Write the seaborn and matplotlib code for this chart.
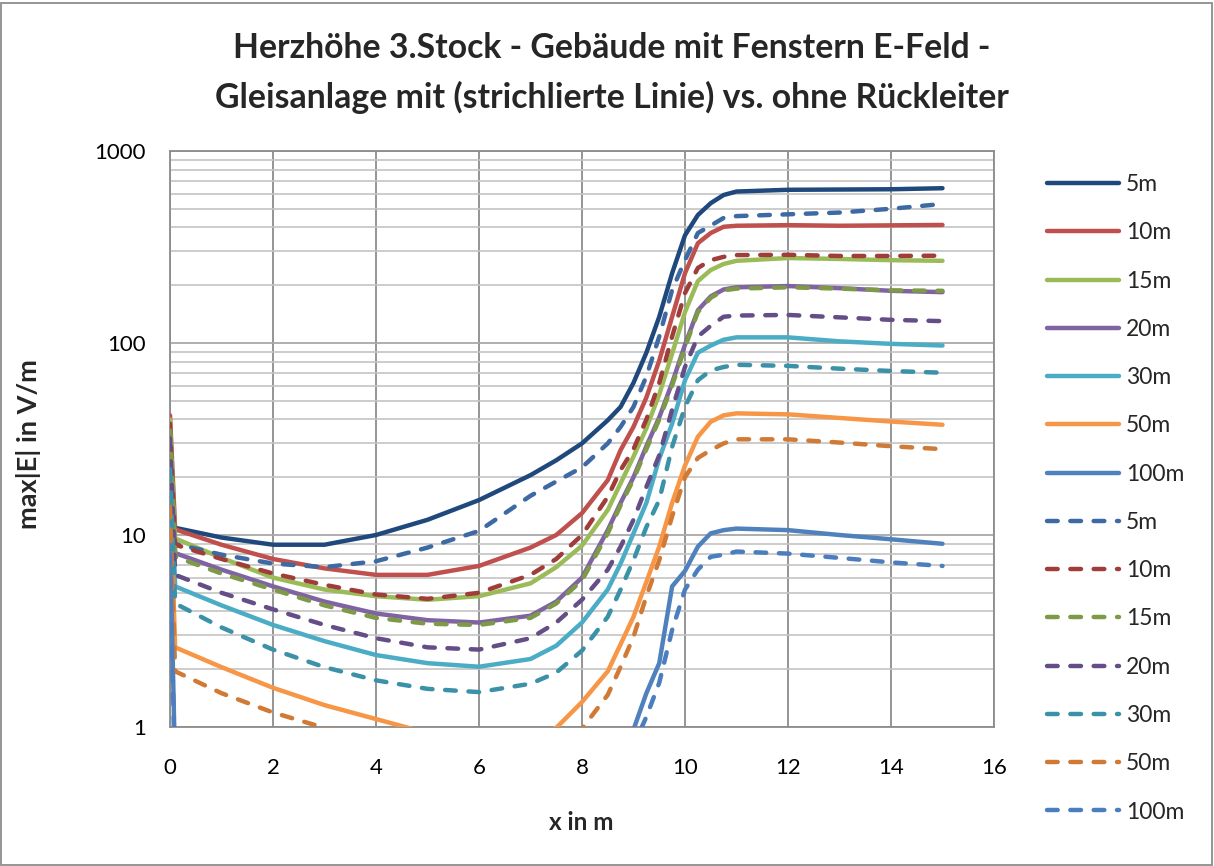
import numpy as np
import pandas as pd
import matplotlib
matplotlib.use("Agg")
import matplotlib.pyplot as plt
from matplotlib.patches import Rectangle
from matplotlib.ticker import FixedLocator, LogLocator, NullFormatter
import seaborn as sns

# ---------------- data ----------------
x_m = [0, 0.1, 1, 2, 3, 4, 5, 6, 7, 7.5, 8, 8.5, 8.75, 9, 9.25, 9.5, 9.75,
       10, 10.25, 10.5, 10.75, 11, 12, 13, 14, 15]

labels = ["5m", "10m", "15m", "20m", "30m", "50m", "100m"]

# without return conductor (solid)
solid_5m = [11.5, 10.9, 9.7, 8.9, 8.9, 10.0, 12.0, 15.2, 20.5, 24.5, 30, 39.6, 46.5, 62, 89, 137, 231,
            364, 464, 535, 590, 615, 628, 630, 632, 640]
solid_10m = [42, 10.7, 8.9, 7.5, 6.7, 6.2, 6.2, 6.9, 8.6, 10, 13, 19.3, 27.7, 36.6, 52, 81, 137,
             231, 331, 374, 403, 408, 411, 408, 410, 412]
solid_15m = [40, 9.6, 7.6, 6.0, 5.2, 4.8, 4.6, 4.8, 5.6, 6.8, 8.8, 13.5, 18.6, 25.6, 36, 54, 88,
             145, 210, 240, 258, 268, 277, 274, 270, 268]
solid_20m = [30, 8.05, 6.6, 5.4, 4.5, 3.9, 3.6, 3.5, 3.8, 4.5, 6.0, 10.6, 14.7, 20, 29, 41, 62,
             98, 148, 175, 190, 195, 198, 193, 187, 184]
solid_30m = [27, 5.4, 4.3, 3.4, 2.8, 2.37, 2.15, 2.06, 2.26, 2.65, 3.5, 5.2, 7.1, 10.2, 14.7, 25, 38,
             64, 89, 97, 104, 107, 107, 102, 99, 97]
solid_50m = [18, 2.6, 2.05, 1.6, 1.3, 1.1, 0.93, 0.85, 0.88, 0.99, 1.35, 1.95, 2.7, 3.75, 5.7, 8.7, 14.7,
             23, 32.5, 38.9, 42, 43, 42.5, 40.7, 39, 37.5]
solid_100m = [10, 0.6, 0.5, 0.4, 0.35, 0.3, 0.28, 0.27, 0.3, 0.35, 0.45, 0.6, 0.75, 0.97, 1.5, 2.15, 5.4,
              6.5, 8.7, 10.2, 10.6, 10.8, 10.6, 10.0, 9.5, 9.0]

# with return conductor (dashed)
dash_5m = [9.5, 9.0, 7.9, 7.1, 6.8, 7.3, 8.6, 10.5, 16, 19, 22.5, 30, 36.6, 46.5, 67, 108, 189,
           270, 374, 409, 448, 458, 468, 478, 500, 530]
dash_10m = [38, 8.9, 7.5, 6.3, 5.5, 4.9, 4.65, 5.0, 6.2, 7.5, 10, 15.8, 21.8, 28, 40, 62, 108,
            182, 246, 270, 281, 287, 288, 284, 284, 285]
dash_15m = [35, 7.7, 6.3, 5.2, 4.3, 3.7, 3.45, 3.4, 3.7, 4.4, 5.8, 10.2, 14.3, 19.5, 28, 40, 60,
            95, 145, 172, 188, 192, 195, 192, 188, 187]
dash_20m = [32, 6.2, 5.0, 4.1, 3.4, 2.9, 2.6, 2.53, 2.9, 3.5, 4.6, 6.6, 8.7, 12, 17.8, 26, 45,
            75, 108, 123, 137, 139, 140, 136, 132, 130]
dash_30m = [22, 4.4, 3.3, 2.53, 2.05, 1.75, 1.58, 1.52, 1.68, 1.92, 2.5, 3.75, 5.2, 7.4, 11, 15.2, 28.8,
            46.5, 64, 72, 75, 77, 76, 73.5, 71.5, 70]
dash_50m = [14, 1.95, 1.5, 1.19, 0.99, 0.85, 0.75, 0.7, 0.72, 0.8, 0.98, 1.47, 2.06, 2.95, 4.8, 7.4, 12.5,
            20, 25.2, 27.7, 30, 31.5, 31.5, 30.3, 29, 28]
dash_100m = [8, 0.5, 0.45, 0.4, 0.35, 0.3, 0.28, 0.27, 0.3, 0.35, 0.4, 0.5, 0.6, 0.8, 1.13, 1.7, 3.2,
             5.2, 6.6, 7.7, 7.9, 8.2, 8.0, 7.6, 7.2, 6.9]

solid_series = [solid_5m, solid_10m, solid_15m, solid_20m, solid_30m, solid_50m, solid_100m]
dash_series = [dash_5m, dash_10m, dash_15m, dash_20m, dash_30m, dash_50m, dash_100m]

solid_colors = ["#1F497D", "#C0504D", "#9BBB59", "#8064A2", "#4BACC6", "#F79646", "#4F81BD"]
dash_colors = ["#3E6AA3", "#A03C39", "#7E9A48", "#654E88", "#3A91A8", "#D07A35", "#4A7EBF"]

title1 = "Herzhöhe 3.Stock - Gebäude mit Fenstern E-Feld -"
title2 = "Gleisanlage mit (strichlierte Linie) vs. ohne Rückleiter"
xlabel = "x in m"
ylabel = "max|E| in V/m"
xticks = [0, 2, 4, 6, 8, 10, 12, 14, 16]
yticks = [1, 10, 100, 1000]
ytick_labels = ["1", "10", "100", "1000"]

# ---------------- style ----------------
sns.set_theme(style="white")
plt.rcParams["font.family"] = ["Lato", "DejaVu Sans"]

W, H = 1214, 866
fig = plt.figure(figsize=(W / 100, H / 100), dpi=100)
fig.patch.set_facecolor("white")
ax = fig.add_axes([170 / W, 1 - 727 / H, (994 - 170) / W, (727 - 151) / H])

lw = 3.2
dash_pat = (0, (2.4, 2.85))
for lab, vals, col in zip(labels, solid_series, solid_colors):
    df = pd.DataFrame({"x": x_m, "y": vals})
    sns.lineplot(data=df, x="x", y="y", ax=ax, color=col, linewidth=lw,
                 solid_capstyle="round", solid_joinstyle="round", label=lab,
                 estimator=None, sort=False, zorder=3)
for lab, vals, col in zip(labels, dash_series, dash_colors):
    df = pd.DataFrame({"x": x_m, "y": vals})
    sns.lineplot(data=df, x="x", y="y", ax=ax, color=col, linewidth=lw,
                 linestyle=dash_pat, dash_capstyle="round", dash_joinstyle="round",
                 label=lab, estimator=None, sort=False, zorder=3)

ax.set_yscale("log")
ax.set_xlim(0, 16)
ax.set_ylim(1, 1000)

ax.xaxis.set_major_locator(FixedLocator(xticks))
ax.yaxis.set_major_locator(FixedLocator(yticks))
ax.set_yticklabels(ytick_labels)
ax.set_xticklabels([str(t) for t in xticks])
ax.yaxis.set_minor_locator(LogLocator(base=10, subs=np.arange(2, 10)))
ax.yaxis.set_minor_formatter(NullFormatter())

ax.grid(True, which="major", axis="x", color="#8C8C8C", linewidth=1.3, zorder=1)
ax.grid(True, which="major", axis="y", color="#A8A8A8", linewidth=1.3, zorder=1)
ax.grid(True, which="minor", axis="y", color="#C4C4C4", linewidth=1.2, zorder=1)
ax.set_axisbelow(True)

for s in ax.spines.values():
    s.set_color("#8C8C8C")
    s.set_linewidth(1.3)

ax.tick_params(axis="both", which="major", direction="out", length=6.5, width=1.2,
               color="#8C8C8C", labelsize=16, labelcolor="black")
ax.tick_params(axis="x", which="major", pad=16)
ax.tick_params(axis="y", which="major", pad=11)
ax.tick_params(axis="y", which="minor", length=0)

ax.set_xlabel(xlabel, fontsize=17.5, fontweight="bold")
ax.set_ylabel(ylabel, fontsize=19.5, fontweight="bold")
ax.xaxis.label.set_va("center")
ax.yaxis.label.set_va("center")
ax.yaxis.label.set_ha("center")
ax.xaxis.set_label_coords((581 - 170) / (994 - 170), -(822 - 727) / (727 - 151))
ax.yaxis.set_label_coords(-(170 - 29) / (994 - 170), (727 - 444) / (727 - 151))

fig.text(612 / W, 1 - 48 / H, title1, ha="center", va="center",
         fontsize=24.3, fontweight="bold")
fig.text(612 / W, 1 - 97 / H, title2, ha="center", va="center",
         fontsize=24.3, fontweight="bold")

h, l = ax.get_legend_handles_labels()
if ax.get_legend():
    ax.get_legend().remove()
leg = fig.legend(h, l, loc="upper left", bbox_to_anchor=(1047 / W, 1 - 174 / H),
                 frameon=False, fontsize=16.5, handlelength=3.15, handletextpad=0.3,
                 labelspacing=1.19, borderaxespad=0, borderpad=0)

fig.patches.append(Rectangle((1.5 / W, 1.5 / H), (W - 4) / W, (H - 4) / H,
                             transform=fig.transFigure, fill=False,
                             edgecolor="#8C8C8C", linewidth=1.3))

fig.savefig("out.png", dpi=100, facecolor="white")
